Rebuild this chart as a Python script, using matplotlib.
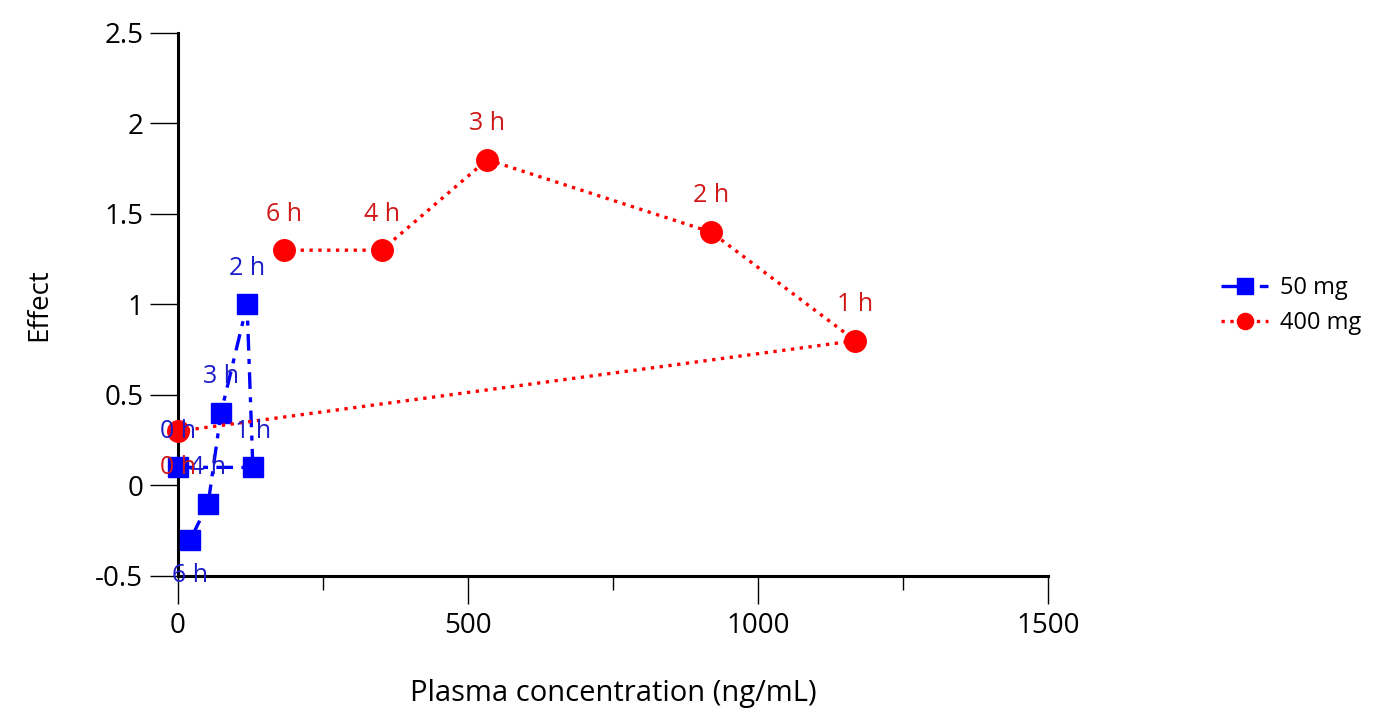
import matplotlib
matplotlib.use("Agg")
import matplotlib.pyplot as plt
from matplotlib.ticker import MultipleLocator

plt.rcParams['font.family'] = ['Open Sans', 'DejaVu Sans']

# 50 mg dose: concentration vs effect, in time order
conc_50 = [0, 129, 119, 74, 52, 21]
effect_50 = [0.1, 0.1, 1.0, 0.4, -0.1, -0.3]
times_50 = ["0 h", "1 h", "2 h", "3 h", "4 h", "6 h"]

# 400 mg dose
conc_400 = [0, 1168, 919, 533, 351, 182]
effect_400 = [0.3, 0.8, 1.4, 1.8, 1.3, 1.3]
times_400 = ["0 h", "1 h", "2 h", "3 h", "4 h", "6 h"]

# label placement: +1 above the point, -1 below
side_50 = [1, 1, 1, 1, 1, -1]
side_400 = [-1, 1, 1, 1, 1, 1]

fig = plt.figure(figsize=(13.92, 7.11), dpi=100)
ax = fig.add_axes([0.1279, 0.1899, 0.625, 0.7637])

ax.plot(conc_50, effect_50, color='#0000ff', linestyle=(0, (5, 2.5, 1.5, 2.5)), linewidth=2.4,
        marker='s', markersize=14.5, label='50 mg', clip_on=False, zorder=3)
ax.plot(conc_400, effect_400, color='#ff0000', linestyle=':', linewidth=2.4,
        marker='o', markersize=15.5, label='400 mg', clip_on=False, zorder=3)

for x, y, t, s in zip(conc_50, effect_50, times_50, side_50):
    ax.annotate(t, (x, y), xytext=(0, 26 * s), textcoords='offset points',
                ha='center', va='center', fontsize=18, color='#1c1cc8',
                annotation_clip=False, zorder=4)
for x, y, t, s in zip(conc_400, effect_400, times_400, side_400):
    ax.annotate(t, (x, y), xytext=(0, 26 * s), textcoords='offset points',
                ha='center', va='center', fontsize=18, color='#d01818',
                annotation_clip=False, zorder=4)

ax.set_xlim(0, 1500)
ax.set_ylim(-0.5, 2.5)
ax.xaxis.set_major_locator(MultipleLocator(500))
ax.xaxis.set_minor_locator(MultipleLocator(250))
ax.set_yticks([-0.5, 0, 0.5, 1, 1.5, 2, 2.5])
ax.set_yticklabels(["-0.5", "0", "0.5", "1", "1.5", "2", "2.5"])

for side in ['top', 'right']:
    ax.spines[side].set_visible(False)
for side in ['left', 'bottom']:
    ax.spines[side].set_linewidth(2.2)

ax.tick_params(axis='both', which='major', direction='out', length=20,
               width=1.0, labelsize=20, pad=5)
ax.tick_params(axis='x', which='minor', direction='out', length=10, width=1.0)
ax.tick_params(axis='x', which='major', pad=6)

ax.set_xlabel("Plasma concentration (ng/mL)", fontsize=21, labelpad=28)
ax.set_ylabel("Effect", fontsize=20, labelpad=30)

ax.legend(loc='center left', bbox_to_anchor=(0.862, 0.57), bbox_transform=fig.transFigure,
          frameon=False, fontsize=17, handlelength=2.0, markerscale=0.75,
          labelspacing=0.45, handletextpad=0.5)

fig.savefig("out.png", dpi=100)
